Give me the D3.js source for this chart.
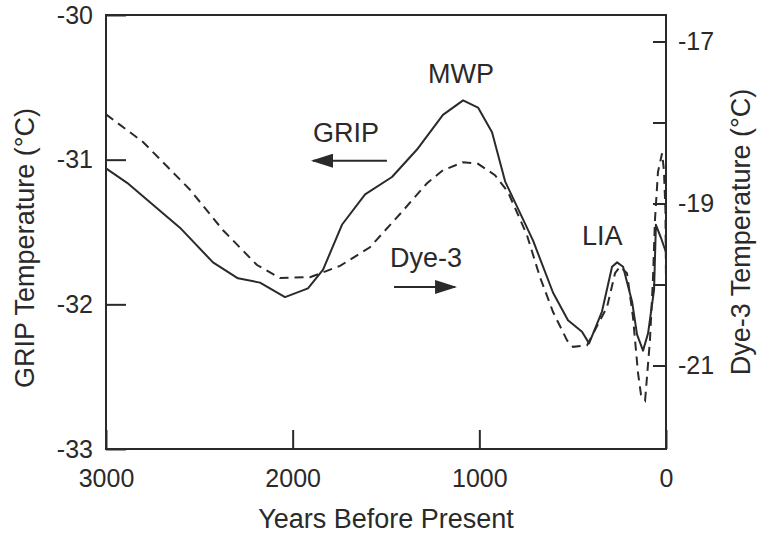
<!DOCTYPE html>
<html>
<head>
<meta charset="utf-8">
<script src="https://cdn.jsdelivr.net/npm/d3@7"></script>
<style>
  body{margin:0;background:#fff}
  text{font-family:"Liberation Sans",Arial,sans-serif;fill:#2a2a2a}
</style>
</head>
<body>
<script>
// GRIP (solid, left axis)
const gripYears=[3000,2887,2604,2427,2293,2175,2041,1918,1837,1736,1612,1468,1334,1195,1087,1007,932,862,712,605,525,450,412,343,289,262,230,182,155,123,96,64,54,27,0]
const gripTemp=[-31.06,-31.16,-31.47,-31.71,-31.82,-31.85,-31.95,-31.89,-31.76,-31.45,-31.24,-31.12,-30.93,-30.69,-30.59,-30.64,-30.81,-31.15,-31.56,-31.92,-32.11,-32.19,-32.27,-32.05,-31.74,-31.71,-31.74,-31.98,-32.21,-32.32,-32.20,-31.90,-31.45,-31.54,-31.64]

// Dye-3 (dashed, right axis)
const dyeYears=[3000,2802,2550,2373,2191,2068,1907,1746,1586,1425,1280,1195,1087,1007,916,846,745,675,605,530,498,423,380,316,273,246,209,177,150,134,112,86,70,59,43,21,11,3,0]
const dyeTemp=[-17.90,-18.24,-18.83,-19.33,-19.76,-19.92,-19.91,-19.77,-19.54,-19.13,-18.75,-18.59,-18.49,-18.51,-18.65,-18.86,-19.39,-19.91,-20.34,-20.69,-20.77,-20.75,-20.56,-20.28,-19.86,-19.78,-19.86,-20.40,-21.09,-21.36,-21.43,-20.69,-19.94,-19.20,-18.61,-18.38,-18.59,-19.08,-19.97]

const xTicks=[3000,2000,1000,0]
const leftTicks=[-30,-31,-32,-33]
const rightTicks=[-17,-18,-19,-20,-21]

const width=758, height=533
const margin={top:15,right:92,bottom:84,left:106}

const x=d3.scaleLinear().domain([3000,0]).range([margin.left,width-margin.right])
const yL=d3.scaleLinear().domain([-30,-33]).range([margin.top,height-margin.bottom])
const yR=d3.scaleLinear().domain([-16.673,-22.031]).range([margin.top,height-margin.bottom])

const ink="#2a2a2a"

const svg=d3.select("body").append("svg")
            .attr("width",width)
            .attr("height",height)

svg.append("defs").append("marker")
   .attr("id","head")
   .attr("viewBox","0 0 22 14")
   .attr("refX",20).attr("refY",7)
   .attr("markerWidth",22).attr("markerHeight",14)
   .attr("markerUnits","userSpaceOnUse")
   .attr("orient","auto")
   .append("path")
   .attr("d","M0,0L22,7L0,14Z")
   .attr("fill",ink)

// axes
const styleAxis=g=>{
  g.select(".domain").remove()
  g.selectAll(".tick line").attr("stroke",ink).attr("stroke-width",2)
  g.selectAll(".tick text").attr("font-size",25).attr("fill",ink)
    .style("font-family",'"Liberation Sans",Arial,sans-serif')
}

svg.append("g")
   .attr("transform",`translate(${margin.left},0)`)
   .call(d3.axisLeft(yL).tickValues(leftTicks).tickSize(-20).tickPadding(13).tickFormat(d=>String(d)))
   .call(styleAxis)

svg.append("g")
   .attr("transform",`translate(${width-margin.right},0)`)
   .call(d3.axisRight(yR).tickValues(rightTicks).tickSize(-13).tickPadding(12)
          .tickFormat(d=>d%2 ? String(d) : ""))
   .call(styleAxis)

svg.append("g")
   .attr("transform",`translate(0,${height-margin.bottom})`)
   .call(d3.axisBottom(x).tickValues(xTicks).tickSize(-19).tickPadding(20).tickFormat(d=>String(d)))
   .call(styleAxis)

svg.append("rect")
   .attr("x",margin.left).attr("y",margin.top)
   .attr("width",width-margin.left-margin.right)
   .attr("height",height-margin.top-margin.bottom)
   .attr("fill","none").attr("stroke",ink).attr("stroke-width",2)

// curves
const gripLine=d3.line().x(d=>x(d[0])).y(d=>yL(d[1]))
const dyeLine=d3.line().x(d=>x(d[0])).y(d=>yR(d[1]))

svg.append("path")
   .datum(d3.zip(gripYears,gripTemp))
   .attr("d",gripLine)
   .attr("fill","none").attr("stroke",ink).attr("stroke-width",2)
   .attr("stroke-linejoin","round")

svg.append("path")
   .datum(d3.zip(dyeYears,dyeTemp))
   .attr("d",dyeLine)
   .attr("fill","none").attr("stroke",ink).attr("stroke-width",2)
   .attr("stroke-dasharray","9,6")

// labels
svg.append("text")
   .attr("x",(margin.left+width-margin.right)/2).attr("y",528)
   .attr("text-anchor","middle").attr("font-size",27)
   .text("Years Before Present")

svg.append("text")
   .attr("transform","translate(34,248) rotate(-90)")
   .attr("text-anchor","middle").attr("font-size",27)
   .text("GRIP Temperature (°C)")

svg.append("text")
   .attr("transform","translate(750,232) rotate(-90)")
   .attr("text-anchor","middle").attr("font-size",27)
   .text("Dye-3 Temperature (°C)")

// annotations (data coordinates on the GRIP scale)
const notes=[
  {t:"MWP",yr:1098,v:-30.47,anchor:"middle"},
  {t:"GRIP",yr:1891,v:-30.878,anchor:"start"},
  {t:"Dye-3",yr:1478,v:-31.742,anchor:"start"},
  {t:"LIA",yr:450,v:-31.59,anchor:"start"}
]
svg.selectAll(".note")
   .data(notes)
   .enter()
   .append("text")
   .attr("class","note")
   .attr("x",d=>x(d.yr)).attr("y",d=>yL(d.v))
   .attr("text-anchor",d=>d.anchor)
   .attr("font-size",27)
   .text(d=>d.t)

const arrows=[
  {from:1495,to:1891,v:-31.007},
  {from:1457,to:1130,v:-31.88}
]
svg.selectAll(".arrow")
   .data(arrows)
   .enter()
   .append("line")
   .attr("class","arrow")
   .attr("x1",d=>x(d.from)).attr("x2",d=>x(d.to))
   .attr("y1",d=>yL(d.v)).attr("y2",d=>yL(d.v))
   .attr("stroke",ink).attr("stroke-width",2)
   .attr("marker-end","url(#head)")
</script>
</body>
</html>
